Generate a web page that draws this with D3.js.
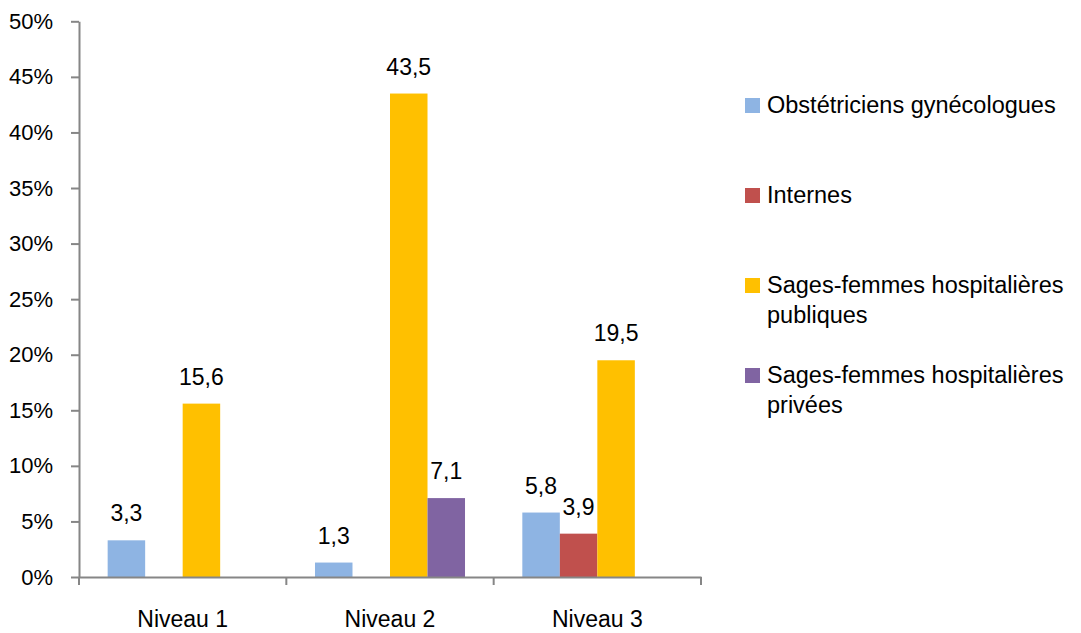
<!DOCTYPE html>
<html>
<head>
<meta charset="utf-8">
<script src="https://cdn.jsdelivr.net/npm/d3@7"></script>
<style>
  body { margin: 0; background: #fff; }
  text { font-family: "Liberation Sans", Arial, sans-serif; fill: #000; }
</style>
</head>
<body>
<svg width="1081" height="633"></svg>
<script>
var niveaux = ["Niveau 1", "Niveau 2", "Niveau 3"];
var series = ["Obstétriciens gynécologues", "Internes", "Sages-femmes hospitalières publiques", "Sages-femmes hospitalières privées"];
var legendLines = [["Obstétriciens gynécologues"], ["Internes"], ["Sages-femmes hospitalières", "publiques"], ["Sages-femmes hospitalières", "privées"]];
var obstetriciens = [3.3, 1.3, 5.8];
var internes = [null, null, 3.9];
var sfPubliques = [15.6, 43.5, 19.5];
var sfPrivees = [null, 7.1, null];
var colors = ["#8EB4E3", "#C0504D", "#FFC000", "#8064A2"];
var yTicks = [0, 0.05, 0.1, 0.15, 0.2, 0.25, 0.3, 0.35, 0.4, 0.45, 0.5];

var values = [obstetriciens, internes, sfPubliques, sfPrivees];

var svg = d3.select("svg"),
    mLeft = 79, mRight = 701, mTop = 21.3, mBottom = 577;

var x0 = d3.scaleBand().domain(niveaux).range([mLeft, mRight]).padding(0);
var x1 = d3.scaleBand().domain(d3.range(series.length))
    .range([0, x0.bandwidth()]).paddingInner(0).paddingOuter(0.764);
var y = d3.scaleLinear().domain([0, 0.5]).range([mBottom, mTop]);
var color = d3.scaleOrdinal().domain(d3.range(series.length)).range(colors);

var fmt = function(v) { return d3.format(".1f")(v).replace(".", ","); };

// y axis
var yAxis = svg.append("g")
    .attr("transform", "translate(" + mLeft + ",0)")
    .call(d3.axisLeft(y).tickValues(yTicks).tickFormat(d3.format(".0%")).tickSize(8).tickSizeOuter(0).tickPadding(18));
yAxis.select(".domain").attr("stroke", "#868686").attr("stroke-width", 2);
yAxis.selectAll(".tick line").attr("stroke", "#868686").attr("stroke-width", 2);
yAxis.selectAll("text").style("font-size", "22px").attr("fill", "#000")
    .style("font-family", "Liberation Sans, Arial, sans-serif");

// bars
var cells = [];
niveaux.forEach(function(n, i) {
  values.forEach(function(arr, s) {
    if (arr[i] != null) cells.push({niveau: n, s: s, v: arr[i]});
  });
});

svg.append("g").selectAll("rect")
  .data(cells)
  .enter().append("rect")
    .attr("x", function(d) { return x0(d.niveau) + x1(d.s); })
    .attr("width", x1.bandwidth())
    .attr("y", function(d) { return y(d.v / 100); })
    .attr("height", function(d) { return mBottom - y(d.v / 100); })
    .attr("fill", function(d) { return color(d.s); });

svg.append("g").selectAll("text")
  .data(cells)
  .enter().append("text")
    .attr("x", function(d) { return x0(d.niveau) + x1(d.s) + x1.bandwidth() / 2; })
    .attr("y", function(d) { return y(d.v / 100) - 19; })
    .attr("text-anchor", "middle")
    .style("font-size", "23px")
    .text(function(d) { return fmt(d.v); });

// x axis
var xAxis = svg.append("g")
    .attr("transform", "translate(0," + mBottom + ")")
    .call(d3.axisBottom(x0).tickSize(0).tickPadding(34));
xAxis.select(".domain").attr("stroke", "#868686").attr("stroke-width", 2);
xAxis.selectAll("text").style("font-size", "23px").attr("fill", "#000")
    .style("font-family", "Liberation Sans, Arial, sans-serif");
svg.append("g").selectAll("line")
  .data(niveaux.concat([null]))
  .enter().append("line")
    .attr("x1", function(d) { return d ? x0(d) : mRight; })
    .attr("x2", function(d) { return d ? x0(d) : mRight; })
    .attr("y1", mBottom)
    .attr("y2", mBottom + 8)
    .attr("stroke", "#868686")
    .attr("stroke-width", 2);

// legend
var ly = d3.scaleLinear().domain([0, 3]).range([105, 375]);
var legend = svg.append("g").selectAll("g")
  .data(series)
  .enter().append("g")
    .attr("transform", function(d, i) { return "translate(745," + ly(i) + ")"; });
legend.append("rect")
    .attr("x", 0).attr("y", -7).attr("width", 15).attr("height", 15)
    .attr("fill", function(d, i) { return color(i); });
legend.append("text")
    .attr("x", 22)
    .style("font-size", "23.5px")
  .selectAll("tspan")
  .data(function(d, i) { return legendLines[i]; })
  .enter().append("tspan")
    .attr("x", 22)
    .attr("y", function(d, j) { return 8 + j * 30; })
    .text(function(d) { return d; });
</script>
</body>
</html>
